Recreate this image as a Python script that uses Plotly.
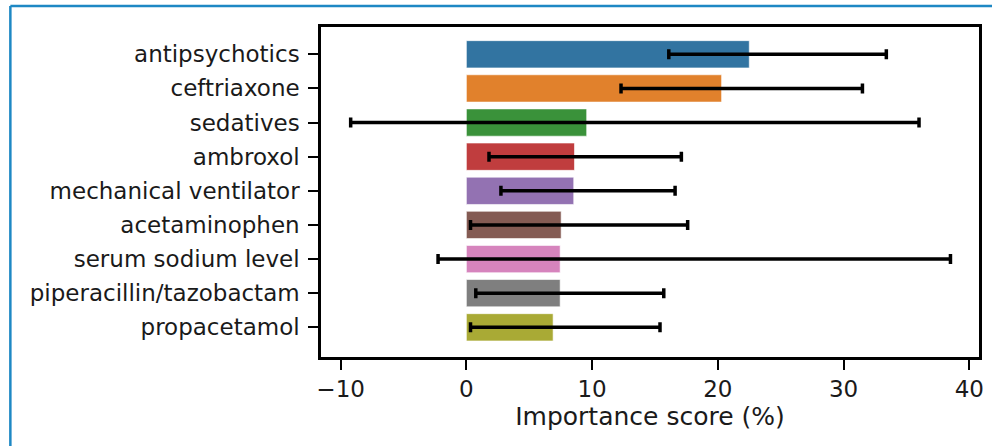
import plotly.graph_objects as go

features = ["antipsychotics", "ceftriaxone", "sedatives", "ambroxol",
            "mechanical ventilator", "acetaminophen", "serum sodium level",
            "piperacillin/tazobactam", "propacetamol"]
scores = [22.5, 20.3, 9.57, 8.6, 8.54, 7.54, 7.46, 7.46, 6.9]
ci_low = [16.1, 12.3, -9.2, 1.8, 2.75, 0.33, -2.25, 0.75, 0.33]
ci_high = [33.4, 31.5, 36.0, 17.1, 16.6, 17.6, 38.5, 15.7, 15.4]
colors = ["#3274a1", "#e1812c", "#3a923a", "#c03d3e", "#9372b2",
          "#845b53", "#d684bd", "#7f7f7f", "#a9aa35"]
x_ticks = [-10, 0, 10, 20, 30, 40]

err_plus = [h - v for h, v in zip(ci_high, scores)]
err_minus = [v - l for l, v in zip(ci_low, scores)]

fig = go.Figure()
fig.add_trace(go.Bar(
    y=features, x=scores, orientation="h",
    marker=dict(color=colors, line=dict(color="rgba(255,255,255,0.6)", width=1)),
    width=0.8,
    error_x=dict(type="data", symmetric=False, array=err_plus,
                 arrayminus=err_minus, color="black", thickness=3.5, width=5),
))

W, H = 992, 446
l, r, t, b = 321, 8, 27, 89
pw, ph = W - l - r, H - t - b
font_color = "#1a1a1a"

fig.update_layout(
    width=W, height=H,
    margin=dict(l=l, r=r, t=t, b=b, pad=0),
    paper_bgcolor="white", plot_bgcolor="white",
    font=dict(family="DejaVu Sans", size=23, color=font_color),
    showlegend=False,
    xaxis=dict(
        range=[-11.56, 40.77], tickvals=x_ticks, showgrid=False, zeroline=False,
        showline=True, linecolor="black", linewidth=2.5, mirror=True,
        ticks="outside", ticklen=10, tickwidth=2, tickcolor="black",
        title=dict(text="Importance score (%)", font=dict(size=25), standoff=2),
        tickfont=dict(size=23),
    ),
    yaxis=dict(
        type="category", categoryorder="array", categoryarray=features,
        range=[8.87, -0.80], showgrid=False, zeroline=False,
        showline=True, linecolor="black", linewidth=2.5, mirror=True,
        ticks="outside", ticklen=10, tickwidth=2, tickcolor="black",
        tickfont=dict(size=23), ticklabelstandoff=4,
    ),
    shapes=[
        dict(type="line", xref="paper", yref="paper",
             x0=(8 - l) / pw, x1=(W + 10 - l) / pw,
             y0=(H - b - 6) / ph, y1=(H - b - 6) / ph,
             line=dict(color="#1e88c4", width=2.5)),
        dict(type="line", xref="paper", yref="paper",
             x0=(8 - l) / pw, x1=(8 - l) / pw,
             y0=(H - b - 6) / ph, y1=(-b - 10) / ph,
             line=dict(color="#1e88c4", width=2.5)),
    ],
)

fig.write_html("out.html", config={"displayModeBar": False},
               post_script="document.body.style.margin='0';document.body.style.overflow='hidden';")
